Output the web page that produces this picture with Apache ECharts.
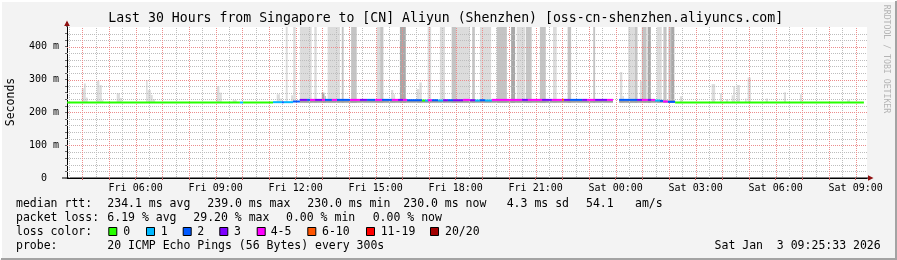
<!DOCTYPE html>
<html><head><meta charset="utf-8">
<script src="https://cdn.jsdelivr.net/npm/echarts@6/dist/echarts.min.js"></script>
<style>html,body{margin:0;padding:0;background:#f3f3f3}#c{width:897px;height:260px}</style>
</head><body><div id="c"></div><script>
// ---------------- data ----------------
const titleText = 'Last 30 Hours from Singapore to [CN] Aliyun (Shenzhen) [oss-cn-shenzhen.aliyuncs.com]';
const xStart = 3.4258;   // hours since Fri 00:00 (Fri 03:25:33)
const xEnd = 33.4258;    // Sat 09:25:33
const xLabelHours = [6, 9, 12, 15, 18, 21, 24, 27, 30, 33];
const majorHours = [4,5,6,7,8,9,10,11,12,13,14,15,16,17,18,19,20,21,22,23,24,25,26,27,28,29,30,31,32,33];
const minorHours = [3.5,4.5,5.5,6.5,7.5,8.5,9.5,10.5,11.5,12.5,13.5,14.5,15.5,16.5,17.5,18.5,19.5,20.5,21.5,22.5,23.5,24.5,25.5,26.5,27.5,28.5,29.5,30.5,31.5,32.5];
const yMax = 460;
const yLabelValues = [0, 100, 200, 300, 400];
const yMajor = [100, 200, 300, 400];
const yMinor = [20,40,60,80,120,140,160,180,220,240,260,280,320,340,360,380,420,440];
const yTicks = [0,20,40,60,80,100,120,140,160,180,200,220,240,260,280,300,320,340,360,380,400,420,440];

const lossColors = ['#26ff00','#00b8ff','#0059ff','#7e00ff','#ff00ff','#ff5500','#ff0000','#a10000'];
const lossLabels = ['0','1','2','3','4-5','6-10','11-19','20/20'];
const smokeShades = ['#dcdcdc','#c4c4c4','#a8a8a8','#9c9c9c'];

// median rtt runs: [startHour, endHour, ms, lossClass]
const medianRuns = [
 [3.43, 9.91, 230, 0],
 [9.91, 10.03, 230, 1],
 [10.03, 11.15, 230, 0],
 [11.15, 11.49, 231, 1],
 [11.49, 11.56, 231, 2],
 [11.56, 11.90, 231, 1],
 [11.90, 12.16, 233, 2],
 [12.16, 12.43, 238, 3],
 [12.43, 12.54, 238, 2],
 [12.54, 12.73, 238, 4],
 [12.73, 12.99, 238, 3],
 [12.99, 13.10, 238, 4],
 [13.10, 13.36, 238, 2],
 [13.36, 13.55, 238, 4],
 [13.55, 14.04, 238, 2],
 [14.04, 14.41, 238, 4],
 [14.41, 14.68, 238, 3],
 [14.68, 14.98, 238, 2],
 [14.98, 15.24, 238, 4],
 [15.24, 15.61, 238, 2],
 [15.61, 15.84, 238, 4],
 [15.84, 16.03, 238, 3],
 [16.03, 16.18, 238, 4],
 [16.18, 16.74, 237, 2],
 [16.74, 16.85, 236, 0],
 [16.85, 16.96, 236, 1],
 [16.96, 17.11, 237, 4],
 [17.11, 17.34, 237, 2],
 [17.34, 17.53, 236, 1],
 [17.53, 17.71, 237, 3],
 [17.71, 17.90, 237, 2],
 [17.90, 18.28, 237, 3],
 [18.28, 18.54, 238, 4],
 [18.54, 18.73, 237, 3],
 [18.73, 18.91, 236, 1],
 [18.91, 19.10, 237, 2],
 [19.10, 19.36, 236, 1],
 [19.36, 20.49, 238, 4],
 [20.49, 20.71, 238, 3],
 [20.71, 21.24, 238, 4],
 [21.24, 21.61, 238, 3],
 [21.61, 21.99, 238, 4],
 [21.99, 22.06, 238, 5],
 [22.06, 22.29, 238, 3],
 [22.29, 22.74, 238, 2],
 [22.74, 22.93, 238, 3],
 [22.93, 23.23, 238, 4],
 [23.23, 23.68, 238, 3],
 [23.68, 23.90, 238, 4],
 [24.13, 24.80, 238, 2],
 [24.80, 24.99, 238, 3],
 [24.99, 25.20, 238, 4],
 [25.20, 25.35, 238, 3],
 [25.35, 25.48, 238, 4],
 [25.48, 25.66, 236, 1],
 [25.66, 25.78, 235, 2],
 [25.78, 25.96, 233, 4],
 [25.96, 26.23, 232, 2],
 [26.23, 33.31, 230, 0]
];

// smoke: [startHour, endHour, lowMs, highMs, shade]
const smokeBars = [
 [3.98, 4.06, 231, 273, 0],
 [4.06, 4.13, 231, 288, 0],
 [4.13, 4.20, 231, 245, 0],
 [4.54, 4.64, 231, 296, 0],
 [4.64, 4.73, 231, 283, 0],
 [4.73, 4.79, 231, 237, 0],
 [5.29, 5.41, 231, 258, 0],
 [5.41, 5.48, 231, 244, 0],
 [6.39, 6.45, 231, 298, 0],
 [6.45, 6.57, 231, 268, 0],
 [6.57, 6.64, 231, 253, 0],
 [6.64, 6.73, 231, 240, 0],
 [9.04, 9.14, 231, 280, 0],
 [9.14, 9.23, 231, 260, 0],
 [9.64, 9.79, 231, 237, 0],
 [11.29, 11.41, 231, 255, 0],
 [11.41, 11.48, 231, 242, 0],
 [11.63, 11.70, 231, 460, 0],
 [11.83, 11.91, 231, 252, 0],
 [11.91, 12.00, 231, 460, 0],
 [12.16, 12.60, 229, 460, 0],
 [12.70, 12.79, 229, 460, 0],
 [12.98, 13.08, 229, 260, 2],
 [13.08, 13.14, 229, 250, 1],
 [13.20, 13.66, 229, 460, 0],
 [13.73, 13.80, 229, 460, 1],
 [14.08, 14.29, 229, 460, 1],
 [15.04, 15.17, 229, 460, 0],
 [15.17, 15.29, 229, 460, 1],
 [15.58, 15.66, 229, 268, 0],
 [15.66, 15.73, 229, 255, 0],
 [15.91, 16.13, 229, 460, 2],
 [16.54, 16.64, 229, 271, 0],
 [16.64, 16.73, 229, 291, 0],
 [16.95, 17.08, 229, 460, 0],
 [17.41, 17.60, 229, 460, 0],
 [17.85, 18.04, 229, 460, 1],
 [18.04, 18.54, 229, 460, 0],
 [18.62, 18.72, 229, 460, 1],
 [18.91, 19.33, 229, 460, 0],
 [19.54, 19.92, 229, 460, 1],
 [20.08, 20.23, 229, 460, 2],
 [20.29, 20.60, 229, 460, 0],
 [20.63, 20.85, 229, 460, 1],
 [21.16, 21.38, 229, 460, 1],
 [21.65, 21.79, 229, 460, 0],
 [22.20, 22.33, 229, 460, 1],
 [23.16, 23.23, 229, 460, 1],
 [24.16, 24.25, 229, 323, 0],
 [24.25, 24.31, 229, 250, 0],
 [24.47, 24.72, 229, 460, 0],
 [24.72, 24.82, 229, 460, 1],
 [24.91, 24.98, 229, 295, 0],
 [24.98, 25.16, 229, 460, 1],
 [25.20, 25.32, 229, 460, 2],
 [25.54, 25.73, 229, 460, 0],
 [25.79, 25.91, 229, 460, 1],
 [25.98, 26.08, 229, 460, 1],
 [26.08, 26.20, 229, 460, 2],
 [12.16, 23.90, 229, 236, 3],
 [24.13, 26.23, 229, 236, 3],
 [26.41, 26.50, 231, 249, 0],
 [27.60, 27.73, 231, 286, 0],
 [27.91, 27.98, 231, 258, 0],
 [28.14, 28.22, 231, 240, 0],
 [28.35, 28.41, 231, 252, 0],
 [28.41, 28.48, 231, 280, 0],
 [28.54, 28.66, 231, 283, 0],
 [28.85, 28.91, 231, 242, 0],
 [28.95, 29.07, 231, 306, 0],
 [29.63, 29.71, 231, 242, 0],
 [30.31, 30.39, 231, 261, 0],
 [30.91, 30.98, 231, 255, 0],
 [32.68, 32.79, 231, 237, 0]
];

const statLines = [
 [['median rtt:', 16], ['234.1 ms avg', 107.3], ['239.0 ms max', 207.3], ['230.0 ms min', 307.3], ['230.0 ms now', 403.3], ['4.3 ms sd', 506.7], ['54.1', 586], ['am/s', 635]],
 [['packet loss:', 16], ['6.19 % avg', 107.3], ['29.20 % max', 193.3], ['0.00 % min', 286], ['0.00 % now', 372.7]],
 [['loss color:', 16]],
 [['probe:', 16], ['20 ICMP Echo Pings (56 Bytes) every 300s', 107.3]]
];
const timestampText = 'Sat Jan  3 09:25:33 2026';

// ---------------- layout / style ----------------
const MONO = '"DejaVu Sans Mono", monospace';
const GL = 67, GT = 27, GR = 867, GB = 178;
const lineY = [204, 218.3, 231.7, 246];
const boxX = [108.3, 146, 182.7, 219.3, 256.7, 307.3, 366, 430];
const boxLabelX = [123.3, 160.7, 197.3, 234, 270.7, 322, 380.7, 445];

function dotPattern(color) {
  const cv = document.createElement('canvas');
  cv.width = 2; cv.height = 2;
  const ctx = cv.getContext('2d');
  ctx.fillStyle = color;
  ctx.fillRect(0, 0, 1, 1);
  ctx.fillRect(1, 1, 1, 1);
  return {image: cv, repeat: 'repeat'};
}
const MINOR = dotPattern('#bdbdbd');
const MAJOR = dotPattern('#ec8c8c');

const gridItems = [];
minorHours.forEach(h => gridItems.push([h, 0, 0]));
yMinor.forEach(v => gridItems.push([xStart, v, 2]));
majorHours.forEach(h => gridItems.push([h, 0, 1]));
yMajor.forEach(v => gridItems.push([xStart, v, 3]));

function renderGrid(params, api) {
  const kind = api.value(2);
  const fill = (kind % 2) ? MAJOR : MINOR;
  if (kind < 2) {
    const a = api.coord([api.value(0), 0]), b = api.coord([api.value(0), yMax]);
    return {type: 'rect', shape: {x: Math.round(a[0]), y: Math.round(b[1]), width: 1, height: Math.round(a[1]) - Math.round(b[1])}, style: {fill: fill}};
  }
  const a = api.coord([xStart, api.value(1)]), b = api.coord([xEnd, api.value(1)]);
  return {type: 'rect', shape: {x: Math.round(a[0]), y: Math.round(a[1]), width: Math.round(b[0]) - Math.round(a[0]), height: 1}, style: {fill: fill}};
}
function renderSmoke(params, api) {
  const a = api.coord([api.value(0), api.value(2)]), b = api.coord([api.value(1), api.value(3)]);
  return {type: 'rect', shape: {x: a[0], y: b[1], width: b[0] - a[0], height: a[1] - b[1]},
          style: {fill: smokeShades[api.value(4)]}};
}
function renderMedian(params, api) {
  const a = api.coord([api.value(0), api.value(2)]), b = api.coord([api.value(1), api.value(2)]);
  return {type: 'rect', shape: {x: a[0], y: a[1] - 1, width: b[0] - a[0], height: 2},
          style: {fill: lossColors[api.value(3)]}};
}
function fmtHour(v) {
  const day = v < 24 ? 'Fri' : 'Sat';
  const h = Math.round(v) % 24;
  return day + ' ' + (h < 10 ? '0' : '') + h + ':00';
}

const graphic = [];
graphic.push({type: 'polyline', silent: true, shape: {points: [[1, 259], [1, 1], [896, 1]]}, style: {stroke: '#ffffff', lineWidth: 2, fill: null}});
graphic.push({type: 'polyline', silent: true, shape: {points: [[1, 259], [896, 259], [896, 1]]}, style: {stroke: '#a3a3a3', lineWidth: 2, fill: null}});
graphic.push({type: 'text', x: 108.3, y: 19, style: {text: titleText, font: '13.2px ' + MONO, fill: '#000', textAlign: 'left', textVerticalAlign: 'middle'}});
graphic.push({type: 'text', x: 11, y: 102, rotation: Math.PI / 2, style: {text: 'Seconds', font: '11.5px ' + MONO, fill: '#000', textAlign: 'center', textVerticalAlign: 'middle'}});
graphic.push({type: 'text', x: 886.5, y: 59, rotation: -Math.PI / 2, style: {text: 'RRDTOOL / TOBI OETIKER', font: '8.2px ' + MONO, fill: '#b4b4b4', textAlign: 'center', textVerticalAlign: 'middle'}});
graphic.push({type: 'line', silent: true, shape: {x1: 67, y1: 27, x2: 67, y2: 22}, style: {stroke: '#000', lineWidth: 1}});
graphic.push({type: 'line', silent: true, shape: {x1: 62, y1: 178, x2: 869, y2: 178}, style: {stroke: '#000', lineWidth: 1}});
graphic.push({type: 'polygon', silent: true, shape: {points: [[64.2, 26], [69.8, 26], [67, 20.5]]}, style: {fill: '#8f1010'}});
graphic.push({type: 'polygon', silent: true, shape: {points: [[868, 175.2], [868, 180.8], [873.5, 178]]}, style: {fill: '#8f1010'}});
statLines.forEach((items, i) => {
  items.forEach(([t, x]) => graphic.push({type: 'text', x, y: lineY[i], style: {text: t, font: '11.5px ' + MONO, fill: '#000', textAlign: 'left', textVerticalAlign: 'middle'}}));
});
lossLabels.forEach((t, i) => {
  graphic.push({type: 'rect', silent: true, shape: {x: boxX[i] + 0.5, y: 227.5, width: 8, height: 8}, style: {fill: lossColors[i], stroke: '#000', lineWidth: 1}});
  graphic.push({type: 'text', x: boxLabelX[i], y: lineY[2], style: {text: t, font: '11.5px ' + MONO, fill: '#000', textAlign: 'left', textVerticalAlign: 'middle'}});
});
graphic.push({type: 'text', x: 880.7, y: lineY[3], style: {text: timestampText, font: '11.5px ' + MONO, fill: '#000', textAlign: 'right', textVerticalAlign: 'middle'}});

const chart = echarts.init(document.getElementById('c'), null, {renderer: 'canvas'});
chart.setOption({
  animation: false,
  backgroundColor: '#f3f3f3',
  grid: {left: GL, top: GT, right: 897 - GR, bottom: 260 - GB, show: true, backgroundColor: '#ffffff', borderWidth: 0, z: -1},
  xAxis: {
    type: 'value', min: xStart, max: xEnd,
    axisLine: {show: true, lineStyle: {color: '#000', width: 1}},
    axisTick: {show: true, customValues: majorHours, length: 2, lineStyle: {color: '#c06060'}},
    axisLabel: {customValues: xLabelHours, formatter: fmtHour, margin: 5, fontFamily: MONO, fontSize: 10, color: '#000'},
    splitLine: {show: false}
  },
  yAxis: {
    type: 'value', min: 0, max: yMax,
    axisLine: {show: true, lineStyle: {color: '#000', width: 1}},
    axisTick: {show: true, customValues: yTicks, length: 2, lineStyle: {color: '#666'}},
    axisLabel: {customValues: yLabelValues, formatter: v => v === 0 ? '0  ' : v + ' m', margin: 8, fontFamily: MONO, fontSize: 10, color: '#000'},
    splitLine: {show: false}
  },
  series: [
    {type: 'custom', name: 'smoke', renderItem: renderSmoke, data: smokeBars, encode: {x: [0, 1], y: [2, 3]}, z: 2, clip: true, silent: true},
    {type: 'custom', name: 'gridlines', renderItem: renderGrid, data: gridItems, encode: {x: 0, y: 1}, z: 3, clip: false, silent: true},
    {type: 'custom', name: 'median', renderItem: renderMedian, data: medianRuns, encode: {x: [0, 1], y: 2}, z: 4, clip: true, silent: true}
  ],
  graphic: graphic
});
</script></body></html>
